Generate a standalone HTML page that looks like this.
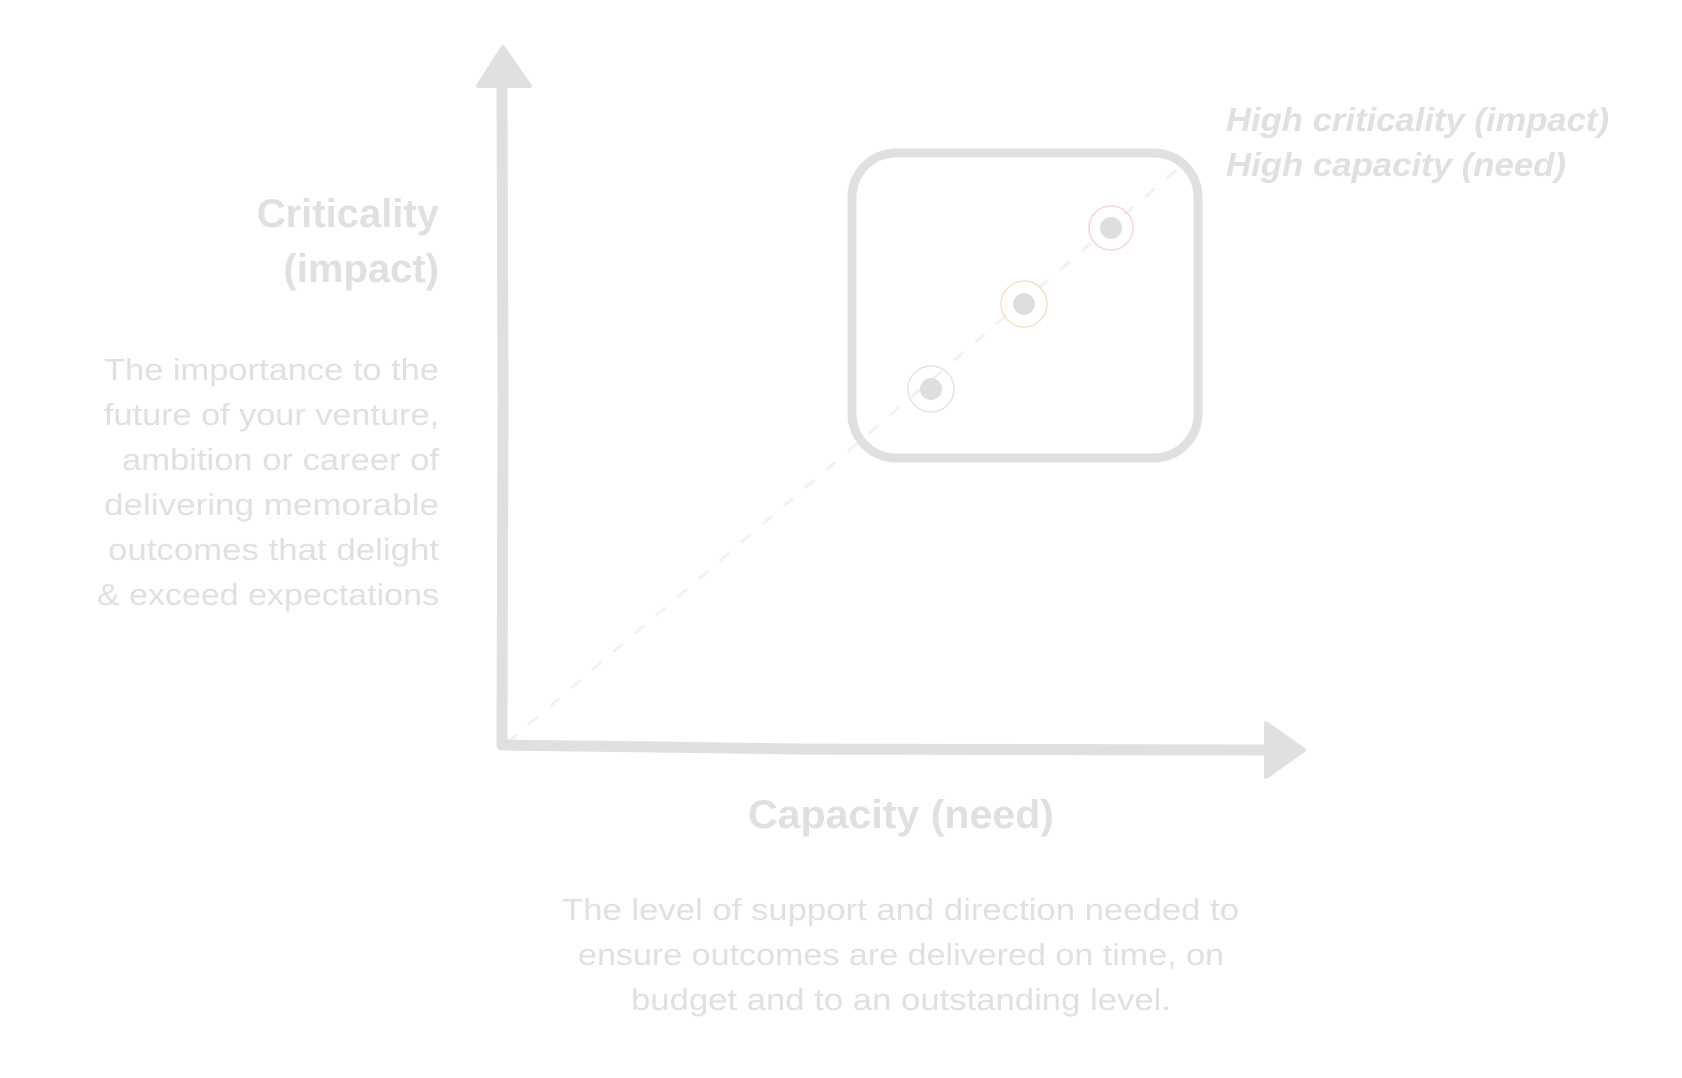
<!DOCTYPE html>
<html><head><meta charset="utf-8"><style>
html,body{margin:0;padding:0;background:#fff;}
svg{display:block;}
text{font-family:"Liberation Sans",sans-serif;fill:#e0e0e0;}
</style></head><body>
<svg width="1682" height="1078" viewBox="0 0 1682 1078" xmlns="http://www.w3.org/2000/svg">
<line x1="508" y1="742" x2="1186" y2="162" stroke="#f2f2f2" stroke-width="3" stroke-dasharray="10 18" stroke-linecap="round"/>
<path d="M502 80 L503 400 L502 745 L800 749 L1272 750" fill="none" stroke="#e0e0e0" stroke-width="11" stroke-linecap="round" stroke-linejoin="round"/>
<polygon points="503,47 478,86 530,86" fill="#e0e0e0" stroke="#e0e0e0" stroke-width="4" stroke-linejoin="round"/>
<polygon points="1304,750 1266,723 1266,777" fill="#e0e0e0" stroke="#e0e0e0" stroke-width="4" stroke-linejoin="round"/>
<rect x="852" y="153" width="346" height="305" rx="44" ry="44" fill="none" stroke="#e0e0e0" stroke-width="9"/>
<circle cx="1111" cy="228" r="22" fill="none" stroke="#f6d6dc" stroke-width="1.5"/>
<circle cx="1111" cy="228" r="11" fill="#dedede"/>
<circle cx="1024" cy="304" r="23" fill="none" stroke="#f8e0c8" stroke-width="1.5"/>
<circle cx="1024" cy="304" r="11" fill="#dedede"/>
<circle cx="931" cy="389" r="23" fill="none" stroke="#dde6ee" stroke-width="1.5"/>
<circle cx="931" cy="389" r="11" fill="#dedede"/>
<text x="1226" y="131" font-size="33" font-weight="bold" font-style="italic" textLength="383" lengthAdjust="spacingAndGlyphs">High criticality (impact)</text>
<text x="1226" y="176" font-size="33" font-weight="bold" font-style="italic" textLength="340" lengthAdjust="spacingAndGlyphs">High capacity (need)</text>

<text x="439" y="227" font-size="40" font-weight="bold" text-anchor="end">Criticality</text>
<text x="439" y="282" font-size="40" font-weight="bold" text-anchor="end">(impact)</text>

<g font-size="31">
<text x="104" y="380" textLength="335" lengthAdjust="spacingAndGlyphs">The importance to the</text>
<text x="104" y="425" textLength="335" lengthAdjust="spacingAndGlyphs">future of your venture,</text>
<text x="122" y="470" textLength="317" lengthAdjust="spacingAndGlyphs">ambition or career of</text>
<text x="104" y="515" textLength="335" lengthAdjust="spacingAndGlyphs">delivering memorable</text>
<text x="108" y="560" textLength="331" lengthAdjust="spacingAndGlyphs">outcomes that delight</text>
<text x="97" y="605" textLength="342" lengthAdjust="spacingAndGlyphs">&amp; exceed expectations</text>
</g>

<text x="748" y="828" font-size="40" font-weight="bold" textLength="306" lengthAdjust="spacingAndGlyphs">Capacity (need)</text>

<g font-size="31">
<text x="562" y="920" textLength="677" lengthAdjust="spacingAndGlyphs">The level of support and direction needed to</text>
<text x="578" y="965" textLength="646" lengthAdjust="spacingAndGlyphs">ensure outcomes are delivered on time, on</text>
<text x="631" y="1010" textLength="540" lengthAdjust="spacingAndGlyphs">budget and to an outstanding level.</text>
</g>
</svg>
</body></html>
